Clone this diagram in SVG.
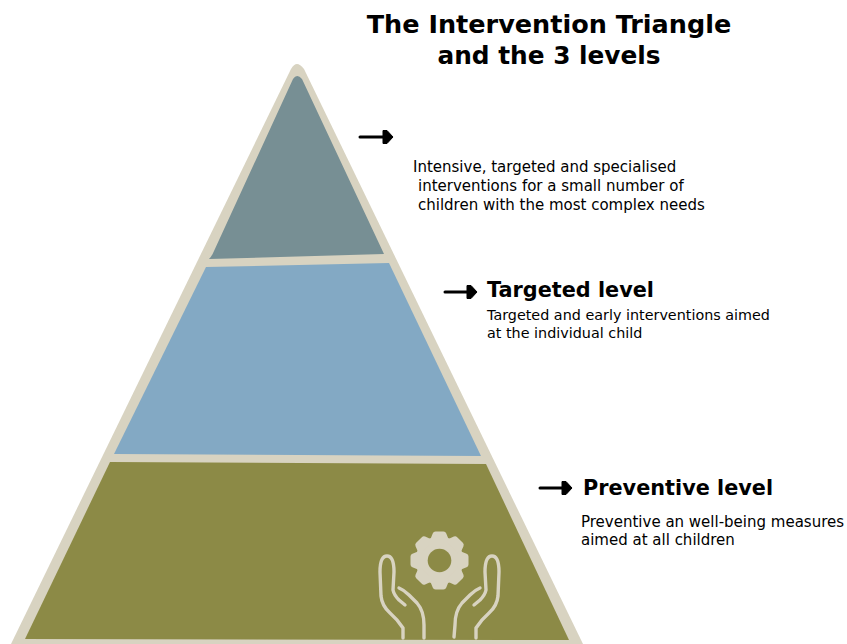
<svg xmlns="http://www.w3.org/2000/svg" width="847" height="644" viewBox="0 0 847 644">
<style>
.t{font-family:"DejaVu Sans",Verdana,sans-serif;fill:#000}
.h{font-size:25.5px;font-weight:700}
.h2{font-size:24.8px;font-weight:700}
.l{font-size:20.8px;font-weight:700}
.b{font-size:15px}
.b2{font-size:14.35px}
.a{fill:none;stroke:#000;stroke-width:3;stroke-linecap:round}
.ah{fill:#000;stroke:#000;stroke-width:1;stroke-linejoin:round}
.hand{fill:none;stroke:#d8d3c1;stroke-width:3.4;stroke-linecap:round;stroke-linejoin:round}
.tooth{fill:#d8d3c1;stroke:#d8d3c1;stroke-width:6;stroke-linejoin:round}
</style>
<defs>
<path id="head" class="ah" d="M-6,-6.500 L-2,-6.500 L4,0 L-2,6.500 L-6,6.500 Z"/>
<path id="tooth" class="tooth" d="M-6,-21 L-4,-26 L4,-26 L6,-21 Z"/>
</defs>
<rect width="847" height="644" fill="#fff"/>
<g id="title"><text class="t h" x="549" y="33" text-anchor="middle">The Intervention Triangle</text><text class="t h2" x="549" y="63.500" text-anchor="middle">and the 3 levels</text></g>
<g id="triangle"><path d="M291,69 Q294,64 297,64 Q300,64 304,69 L583,644 L11,644 Z" fill="#d8d3c1"/></g>
<g id="top-level"><path d="M293,79 Q297,73 302,79 L384,254 L209,259 Q212,256 214,251 Z" fill="#778f94"/></g>
<g id="targeted-level"><path d="M206,267 L389,263 L481,456 L114,454 Z" fill="#83a9c4"/></g>
<g id="preventive-level"><path d="M110,462 L486,464 L569,640 L25,639 Z" fill="#8c8a46"/>
<g id="gear" transform="translate(439.500 560.500)"><circle r="24" fill="#d8d3c1"/><use href="#tooth"/><use href="#tooth" transform="rotate(45)"/><use href="#tooth" transform="rotate(90)"/><use href="#tooth" transform="rotate(135)"/><use href="#tooth" transform="rotate(180)"/><use href="#tooth" transform="rotate(225)"/><use href="#tooth" transform="rotate(270)"/><use href="#tooth" transform="rotate(315)"/><circle r="11.800" fill="#8c8a46"/></g>
<g id="hands" class="hand">
<path d="M403,638 L403,628 Q398,620 390,613 Q382,606 381,596 L380,572 Q380,556 387,556 Q394,556 394,572 L393,590 Q394,595 399,600 L405,605"/><path d="M399,588 Q404,590 409,595 L417,603 Q424,611 424,625 L424,638"/>
<path d="M476,638 L476,628 Q481,620 489,613 Q497,606 498,596 L499,572 Q499,556 492,556 Q485,556 485,572 L486,590 Q485,595 480,600 L474,605"/><path d="M480,588 Q475,590 470,595 L462,603 Q455,611 455,625 L454,637"/></g></g>
<g id="connectors">
<path class="a" d="M360,137 H388"/><use href="#head" x="389" y="137"/>
<path class="a" d="M445,292 H472"/><use href="#head" x="473" y="292"/>
<path class="a" d="M540,488 H567"/><use href="#head" x="568" y="488"/>
</g>
<g id="text-top"><text class="t b" x="413" y="171.500">Intensive, targeted and specialised</text><text class="t b" x="418" y="191">interventions for a small number of</text><text class="t b" x="418" y="209.500">children with the most complex needs</text></g>
<g id="text-targeted"><text class="t l" x="487" y="297">Targeted level</text><text class="t b2" x="487" y="320">Targeted and early interventions aimed</text><text class="t b2" x="487" y="338">at the individual child</text></g>
<g id="text-preventive"><text class="t l" x="583" y="495">Preventive level</text><text class="t b" x="581" y="526.500">Preventive an well-being measures</text><text class="t b" x="581" y="544.500">aimed at all children</text></g>
</svg>
